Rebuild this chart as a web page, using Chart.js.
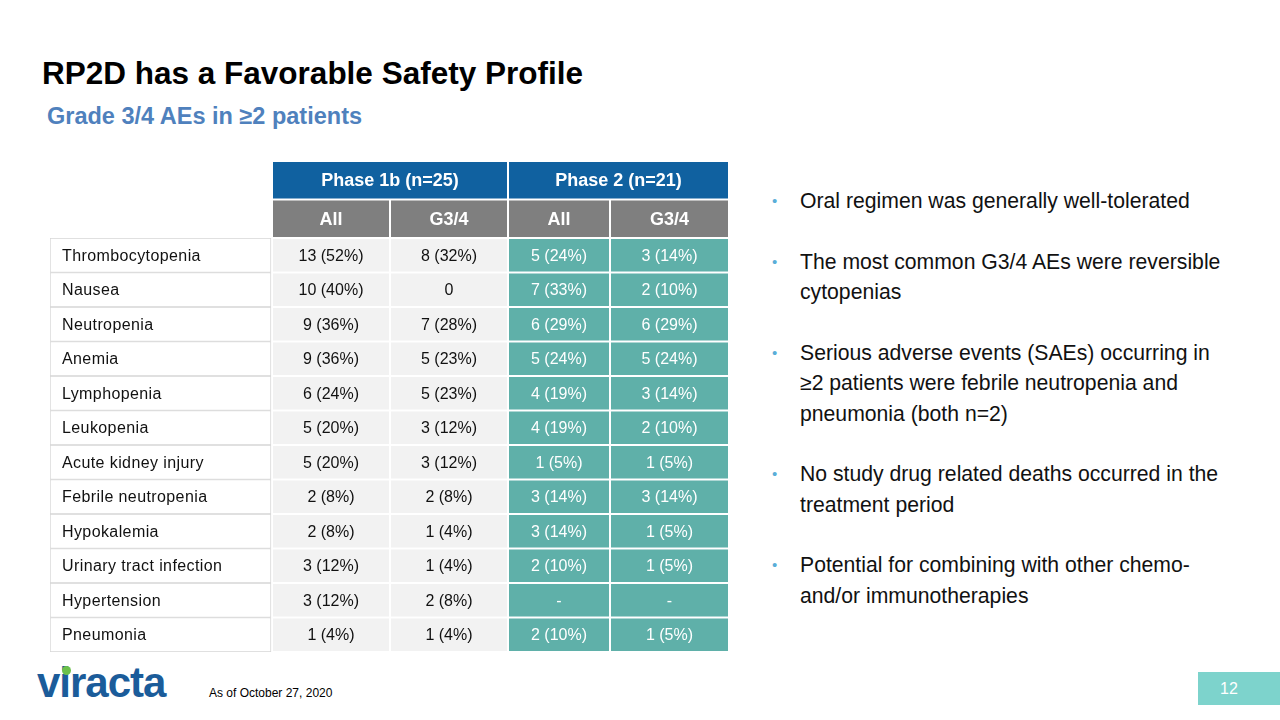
<!DOCTYPE html>
<html>
<head>
<meta charset="utf-8">
<script src="https://cdn.jsdelivr.net/npm/chart.js@4.4.0/dist/chart.umd.min.js"></script>
<style>
    body {
        margin: 0;
        width: 1280px;
        height: 720px;
        position: relative;
        overflow: hidden;
        background: #fff;
        font-family: "Liberation Sans", Arial, sans-serif;
    }
    .titulo {
        position: absolute;
        left: 42px;
        top: 58px;
        font-size: 31.5px;
        line-height: 31.5px;
        font-weight: bold;
        color: #000;
    }
    .subtitulo {
        position: absolute;
        left: 47px;
        top: 105px;
        font-size: 23.5px;
        line-height: 23.5px;
        font-weight: bold;
        color: #4f81bd;
    }
    canvas {
        position: absolute;
        left: 50px;
    }
    #cabecera { top: 161px; }
    #cuerpo { top: 238px; }
    ul {
        position: absolute;
        left: 800px;
        top: 186px;
        margin: 0;
        padding: 0;
        list-style: none;
        width: 430px;
        font-size: 21.2px;
        line-height: 30.5px;
        color: #111;
    }
    li {
        position: relative;
        margin-bottom: 30px;
    }
    li::before {
        content: "•";
        position: absolute;
        left: -28px;
        top: 0;
        font-size: 15px;
        color: #5aaed8;
    }
    .logo {
        position: absolute;
        left: 37px;
        top: 662px;
        font-size: 42px;
        line-height: 42px;
        font-weight: bold;
        letter-spacing: -1px;
        color: #1b5c9a;
    }
    .punto {
        position: absolute;
        left: 62px;
        top: 666px;
        width: 9px;
        height: 9px;
        border-radius: 50%;
        background: #6cc04a;
    }
    .fecha {
        position: absolute;
        left: 209px;
        top: 687px;
        font-size: 12px;
        line-height: 12px;
        color: #000;
    }
    .pagina {
        position: absolute;
        left: 1198px;
        top: 672px;
        width: 82px;
        height: 33px;
        background: #7dd3cc;
        color: #fff;
        font-size: 16px;
        line-height: 33px;
        padding-left: 22px;
        box-sizing: border-box;
    }
</style>
</head>
<body>
<div class="titulo">RP2D has a Favorable Safety Profile</div>
<div class="subtitulo">Grade 3/4 AEs in ≥2 patients</div>

<canvas id="cabecera" width="680" height="77"></canvas>
<canvas id="cuerpo" width="680" height="414"></canvas>

<ul>
    <li>Oral regimen was generally well-tolerated</li>
    <li>The most common G3/4 AEs were reversible cytopenias</li>
    <li>Serious adverse events (SAEs) occurring in ≥2 patients were febrile neutropenia and pneumonia (both n=2)</li>
    <li>No study drug related deaths occurred in the treatment period</li>
    <li>Potential for combining with other chemo-and/or immunotherapies</li>
</ul>

<div class="logo">viracta</div>
<div class="punto"></div>
<div class="fecha">As of October 27, 2020</div>
<div class="pagina">12</div>

<script>
const aeNames = ['Thrombocytopenia', 'Nausea', 'Neutropenia', 'Anemia', 'Lymphopenia', 'Leukopenia',
    'Acute kidney injury', 'Febrile neutropenia', 'Hypokalemia', 'Urinary tract infection', 'Hypertension', 'Pneumonia'];
const groupLabels = ['Phase 1b (n=25)', 'Phase 2 (n=21)'];
const subLabels = ['All', 'G3/4', 'All', 'G3/4'];

const phase1bAll = ['13 (52%)', '10 (40%)', '9 (36%)', '9 (36%)', '6 (24%)', '5 (20%)', '5 (20%)', '2 (8%)', '2 (8%)', '3 (12%)', '3 (12%)', '1 (4%)'];
const phase1bG34 = ['8 (32%)', '0', '7 (28%)', '5 (23%)', '5 (23%)', '3 (12%)', '3 (12%)', '2 (8%)', '1 (4%)', '1 (4%)', '2 (8%)', '1 (4%)'];
const phase2All = ['5 (24%)', '7 (33%)', '6 (29%)', '5 (24%)', '4 (19%)', '4 (19%)', '1 (5%)', '3 (14%)', '3 (14%)', '2 (10%)', '-', '2 (10%)'];
const phase2G34 = ['3 (14%)', '2 (10%)', '6 (29%)', '5 (24%)', '3 (14%)', '2 (10%)', '1 (5%)', '3 (14%)', '1 (5%)', '1 (5%)', '-', '1 (5%)'];

// columnas de la tabla, en px desde el borde izquierdo
const colEdges = [[0, 221], [223, 339], [341, 457], [459, 559], [561, 678]];
const groupEdges = [[223, 457], [459, 678]];

// escribe el texto de cada celda en el centro de su barra
const textoCeldas = {
    id: 'textoCeldas',
    afterDatasetsDraw(chart) {
        let ctx = chart.ctx;
        chart.data.datasets.forEach((ds, i) => {
            if (!ds.texts) {
                return;
            }
            let meta = chart.getDatasetMeta(i);
            ctx.save();
            ctx.font = ds.textFont;
            ctx.fillStyle = ds.textColor;
            ctx.textBaseline = 'middle';
            ctx.letterSpacing = ds.textSpacing || '0px';
            meta.data.forEach((bar, j) => {
                let p = bar.getProps(['x', 'y', 'base'], true);
                let izq = Math.min(p.x, p.base);
                let der = Math.max(p.x, p.base);
                if (ds.textAlign === 'left') {
                    ctx.textAlign = 'left';
                    ctx.fillText(ds.texts[j], izq + 12, p.y + 1);
                } else {
                    ctx.textAlign = 'center';
                    ctx.fillText(ds.texts[j], (izq + der) / 2, p.y + 1);
                }
            });
            ctx.restore();
        });
    }
};

function opcionesTabla() {
    return {
        indexAxis: 'y',
        responsive: false,
        animation: false,
        events: [],
        layout: { padding: 0 },
        plugins: {
            legend: { display: false },
            tooltip: { enabled: false }
        },
        scales: {
            x: { type: 'linear', min: 0, max: 680, display: false },
            y: { display: false }
        },
        datasets: {
            bar: { grouped: false, categoryPercentage: 1, borderSkipped: false }
        }
    };
}

const fuenteCuerpo = '16px "Liberation Sans", Arial, sans-serif';
const fuenteCabecera = 'bold 18px "Liberation Sans", Arial, sans-serif';

function columna(c, texts, fondo, colorTexto) {
    return {
        data: aeNames.map(() => colEdges[c]),
        backgroundColor: fondo,
        borderWidth: 0,
        barPercentage: 0.94,
        texts: texts,
        textColor: colorTexto,
        textFont: fuenteCuerpo,
        textAlign: 'center'
    };
}

new Chart(document.getElementById('cabecera').getContext('2d'), {
    type: 'bar',
    data: {
        labels: ['grupo', 'sub'],
        datasets: [
            {
                data: groupLabels.map((t, i) => ({ x: groupEdges[i], y: 'grupo' })),
                backgroundColor: '#1061a0',
                borderWidth: 0,
                barPercentage: 0.95,
                texts: groupLabels,
                textColor: '#fff',
                textFont: fuenteCabecera
            },
            {
                data: subLabels.map((t, i) => ({ x: colEdges[i + 1], y: 'sub' })),
                backgroundColor: '#7f7f7f',
                borderWidth: 0,
                barPercentage: 0.95,
                texts: subLabels,
                textColor: '#fff',
                textFont: fuenteCabecera
            }
        ]
    },
    options: opcionesTabla(),
    plugins: [textoCeldas]
});

new Chart(document.getElementById('cuerpo').getContext('2d'), {
    type: 'bar',
    data: {
        labels: aeNames,
        datasets: [
            {
                data: aeNames.map(() => colEdges[0]),
                backgroundColor: '#fff',
                borderColor: '#d6d6d6',
                borderWidth: 1,
                barPercentage: 1,
                texts: aeNames,
                textColor: '#111',
                textFont: fuenteCuerpo,
                textSpacing: '0.4px',
                textAlign: 'left'
            },
            columna(1, phase1bAll, '#f2f2f2', '#111'),
            columna(2, phase1bG34, '#f2f2f2', '#111'),
            columna(3, phase2All, '#5fb0a9', '#fff'),
            columna(4, phase2G34, '#5fb0a9', '#fff')
        ]
    },
    options: opcionesTabla(),
    plugins: [textoCeldas]
});
</script>
</body>
</html>
